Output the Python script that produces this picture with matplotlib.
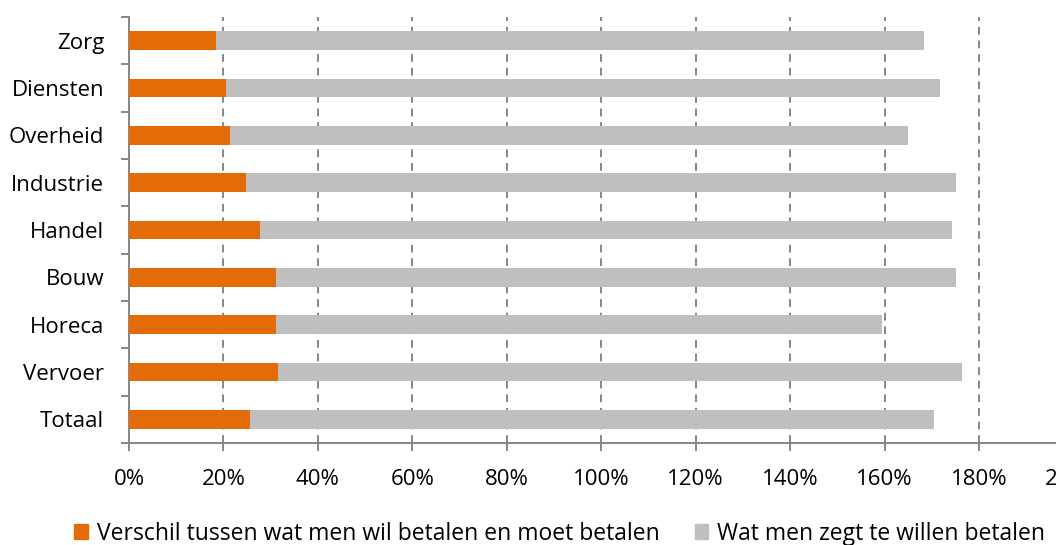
import numpy as np
import matplotlib
matplotlib.use('Agg')
import matplotlib.pyplot as plt
from matplotlib.patches import Patch

plt.rcParams['font.family'] = ['Open Sans', 'DejaVu Sans']

# data (percentages), top to bottom as shown
SECTORS = ['Zorg', 'Diensten', 'Overheid', 'Industrie', 'Handel',
           'Bouw', 'Horeca', 'Vervoer', 'Totaal']
VERSCHIL = [18.4, 20.5, 21.4, 24.8, 27.7, 31.1, 31.1, 31.6, 25.6]
ZEGT = [150.0, 151.2, 143.6, 150.3, 146.6, 144.0, 128.4, 144.8, 144.9]
X_TICKS = [0, 20, 40, 60, 80, 100, 120, 140, 160, 180, 200]
LEGEND_LABELS = ['Verschil tussen wat men wil betalen en moet betalen',
                 'Wat men zegt te willen betalen']

ORANGE = '#E36C09'
GREY = '#BFBFBF'
AXIS_GREY = '#868686'

fig = plt.figure(figsize=(10.56, 5.45), dpi=100)
ax = fig.add_axes([129 / 1056, 102 / 545, 944.4 / 1056, 426 / 545])

y = np.arange(len(SECTORS))
ax.barh(y, VERSCHIL, height=0.4, color=ORANGE, zorder=3)
ax.barh(y, ZEGT, left=VERSCHIL, height=0.4, color=GREY, zorder=3)

ax.set_xlim(0, 200)
ax.set_ylim(len(SECTORS) - 0.5, -0.5)

# gridlines
for xv in X_TICKS[1:]:
    ax.axvline(xv, color=AXIS_GREY, lw=1.4, linestyle=(0, (4, 3)), zorder=1)

for s in ['top', 'right']:
    ax.spines[s].set_visible(False)
for s in ['left', 'bottom']:
    ax.spines[s].set_color(AXIS_GREY)
    ax.spines[s].set_linewidth(1.4)

ax.set_xticks(X_TICKS)
ax.set_xticklabels([f'{v}%' for v in X_TICKS], fontsize=16)
ax.tick_params(axis='x', length=6, width=1.4, color=AXIS_GREY, pad=13)

ax.set_yticks(y)
ax.set_yticklabels(SECTORS, fontsize=16)
ax.tick_params(axis='y', which='major', length=0, pad=18)
ax.set_yticks(np.arange(-0.5, len(SECTORS)), minor=True)
ax.tick_params(axis='y', which='minor', length=6, width=1.4, color=AXIS_GREY)

handles = [Patch(color=ORANGE), Patch(color=GREY)]
fig.legend(handles, LEGEND_LABELS, loc='lower left', bbox_to_anchor=(63 / 1056, -0.022),
           ncol=2, frameon=False, fontsize=16.5, handlelength=0.6, handleheight=0.6,
           handletextpad=0.4, columnspacing=1.5, borderpad=0.0)

fig.savefig('out.png', dpi=100)
